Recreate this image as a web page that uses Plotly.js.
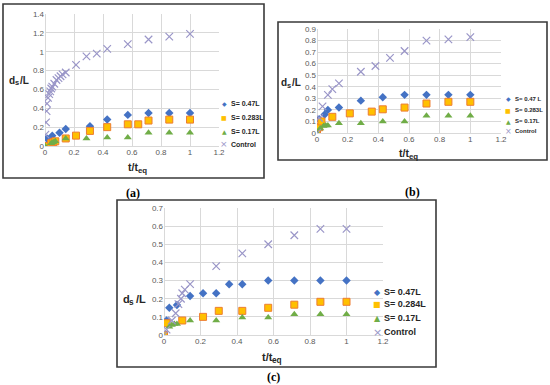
<!DOCTYPE html>
<html>
<head>
<meta charset="utf-8">
<script src="https://cdn.plot.ly/plotly-3.0.1.min.js"></script>
<style>html,body{margin:0;padding:0;background:#fff;}#chart{width:550px;height:385px;}</style>
</head>
<body>
<div id="chart"></div>
<script>
// ---------- Panel (a) ----------
const namesA = ["S= 0.47L", "S= 0.283L", "S= 0.17L", "Control"];
const a_s47_x = [0.014, 0.05, 0.1, 0.143, 0.31, 0.429, 0.571, 0.714, 0.857, 1.0];
const a_s47_y = [0.08, 0.11, 0.14, 0.18, 0.21, 0.28, 0.33, 0.35, 0.35, 0.35];
const a_s283_x = [0, 0.043, 0.057, 0.071, 0.143, 0.214, 0.31, 0.429, 0.571, 0.643, 0.714, 0.857, 1.0];
const a_s283_y = [0, 0.03, 0.04, 0.05, 0.08, 0.11, 0.16, 0.2, 0.23, 0.23, 0.27, 0.28, 0.28];
const a_s17_x = [0, 0.043, 0.057, 0.071, 0.143, 0.286, 0.429, 0.571, 0.714, 0.857, 1.0];
const a_s17_y = [0, 0.03, 0.04, 0.05, 0.08, 0.08, 0.09, 0.09, 0.14, 0.14, 0.14];
const a_ctl_x = [0.003, 0.007, 0.011, 0.014, 0.021, 0.029, 0.036, 0.043, 0.05, 0.064, 0.079, 0.093, 0.107, 0.121, 0.143, 0.214, 0.286, 0.357, 0.429, 0.571, 0.714, 0.857, 1.0];
const a_ctl_y = [0.12, 0.25, 0.37, 0.45, 0.51, 0.55, 0.58, 0.61, 0.63, 0.66, 0.7, 0.72, 0.74, 0.76, 0.78, 0.86, 0.95, 0.98, 1.03, 1.08, 1.13, 1.16, 1.19];

// ---------- Panel (b) ----------
const namesB = ["S= 0.47 L", "S= 0.283L", "S= 0.17L", "Control"];
const b_s47_x = [0.014, 0.05, 0.071, 0.143, 0.286, 0.429, 0.571, 0.714, 0.857, 1.0];
const b_s47_y = [0.12, 0.16, 0.2, 0.22, 0.28, 0.31, 0.33, 0.33, 0.33, 0.33];
const b_s283_x = [0, 0.014, 0.029, 0.1, 0.214, 0.357, 0.429, 0.571, 0.714, 0.857, 1.0];
const b_s283_y = [0, 0.05, 0.1, 0.14, 0.17, 0.185, 0.205, 0.22, 0.255, 0.27, 0.27];
const b_s17_x = [0, 0.021, 0.043, 0.057, 0.071, 0.143, 0.286, 0.429, 0.571, 0.714, 0.857, 1.0];
const b_s17_y = [0, 0.04, 0.06, 0.065, 0.065, 0.085, 0.085, 0.1, 0.1, 0.15, 0.15, 0.15];
const b_ctl_x = [0, 0.014, 0.036, 0.071, 0.1, 0.143, 0.286, 0.381, 0.476, 0.571, 0.714, 0.857, 1.0];
const b_ctl_y = [0, 0.13, 0.23, 0.33, 0.38, 0.43, 0.53, 0.58, 0.65, 0.71, 0.8, 0.81, 0.83];

// ---------- Panel (c) ----------
const namesC = ["S= 0.47L", "S= 0.284L", "S= 0.17L", "Control"];
const c_s47_x = [0.014, 0.029, 0.071, 0.143, 0.214, 0.286, 0.357, 0.429, 0.571, 0.714, 0.857, 1.0];
const c_s47_y = [0.08, 0.15, 0.165, 0.215, 0.23, 0.23, 0.28, 0.28, 0.3, 0.3, 0.3, 0.3];
const c_s284_x = [0, 0.014, 0.1, 0.214, 0.3, 0.429, 0.571, 0.714, 0.857, 1.0];
const c_s284_y = [0, 0.065, 0.08, 0.1, 0.133, 0.133, 0.15, 0.167, 0.183, 0.183];
const c_s17_x = [0.029, 0.043, 0.057, 0.071, 0.143, 0.286, 0.429, 0.571, 0.714, 0.857, 1.0];
const c_s17_y = [0.045, 0.055, 0.06, 0.06, 0.08, 0.08, 0.097, 0.097, 0.115, 0.115, 0.115];
const c_ctl_x = [0, 0.014, 0.043, 0.064, 0.079, 0.093, 0.1, 0.114, 0.143, 0.286, 0.429, 0.571, 0.714, 0.857, 1.0];
const c_ctl_y = [0, 0.03, 0.08, 0.12, 0.17, 0.2, 0.23, 0.25, 0.28, 0.38, 0.45, 0.5, 0.55, 0.585, 0.585];

const panelLabels = ["(a)", "(b)", "(c)"];
// axis titles split as [main, subscript, rest]
const xTitleParts = ["t/t", "eq", ""];
const yTitleParts = ["d", "s", "/L"];

// ---------- styles ----------
const W = 550, H = 385;
const px = v => v / W;
const py = v => 1 - v / H;
const colors = ["#4472C4", "#FFC000", "#70AD47", "#9A96C8"];
const styles = [
  {symbol: "diamond", size: 6.5, color: colors[0], line: {width: 0}},
  {symbol: "square", size: 7, color: colors[1], line: {color: "#ED7D31", width: 1}},
  {symbol: "triangle-up", size: 7, color: colors[2], line: {width: 0}},
  {symbol: "x-thin-open", size: 7.5, color: colors[3], line: {color: colors[3], width: 1.2}}
];
const glyphs = ["◆", "■", "▲", "×"];

const panels = [
  {xs: [a_s47_x, a_s283_x, a_s17_x, a_ctl_x], ys: [a_s47_y, a_s283_y, a_s17_y, a_ctl_y], names: namesA, ax: ""},
  {xs: [b_s47_x, b_s283_x, b_s17_x, b_ctl_x], ys: [b_s47_y, b_s283_y, b_s17_y, b_ctl_y], names: namesB, ax: "2"},
  {xs: [c_s47_x, c_s284_x, c_s17_x, c_ctl_x], ys: [c_s47_y, c_s284_y, c_s17_y, c_ctl_y], names: namesC, ax: "3"}
];

const traces = [];
panels.forEach(p => {
  for (let i = 0; i < 4; i++) {
    traces.push({
      type: "scatter", mode: "markers",
      x: p.xs[i], y: p.ys[i], name: p.names[i],
      xaxis: "x" + p.ax, yaxis: "y" + p.ax,
      marker: styles[i], showlegend: false, hoverinfo: "skip"
    });
  }
});

const tickFont = {family: "Liberation Sans, Arial, sans-serif", size: 8, color: "#595959"};
function xa(domain, anchor) {
  return {domain: domain, anchor: anchor, range: [0, 1.2], dtick: 0.2, tick0: 0,
    showgrid: true, gridcolor: "#D9D9D9", gridwidth: 1, zeroline: true, zerolinecolor: "#D9D9D9",
    zerolinewidth: 1, showline: false, ticks: "", tickfont: tickFont, fixedrange: true};
}
function ya(domain, anchor, max, dt) {
  return {domain: domain, anchor: anchor, range: [0, max], dtick: dt, tick0: 0,
    showgrid: true, gridcolor: "#D9D9D9", gridwidth: 1, zeroline: true, zerolinecolor: "#D9D9D9",
    zerolinewidth: 1, showline: false, ticks: "", tickfont: tickFont, fixedrange: true};
}

// plot-area pixel boxes [left, right, top, bottom]
const boxA = [45, 219, 14, 146];
const boxB = [317, 501, 29, 133];
const boxC = [164, 383, 208, 335];
const dom = b => ({x: [px(b[0]), px(b[1])], y: [py(b[3]), py(b[2])]});
const dA = dom(boxA), dB = dom(boxB), dC = dom(boxC);

const SANS = "Liberation Sans, Arial, sans-serif";
const annotations = [];
function ann(text, x, y, font, xanchor) {
  annotations.push({text: text, x: px(x), y: py(y), xref: "paper", yref: "paper",
    xanchor: xanchor || "center", yanchor: "middle", showarrow: false, font: font});
}
// approximate bold advance widths (em) for width estimation
const adv = {"d": .611, "s": .556, "/": .278, "L": .611, "t": .333, "e": .556, "q": .611, " ": .278};
const wOf = (s, size) => s.split("").reduce((a, c) => a + (adv[c] || .56), 0) * size;
function subTitle(parts, cx, cy, size) {
  const sub = size * 0.75;
  const w0 = wOf(parts[0], size), w1 = wOf(parts[1], sub), w2 = wOf(parts[2], size) + (parts[2] ? 1.5 : 0);
  let x = cx - (w0 + w1 + w2) / 2;
  const f = {family: SANS, size: size, color: "#262626", weight: "bold"};
  const fs = {family: SANS, size: sub, color: "#262626", weight: "bold"};
  ann(parts[0], x, cy, f, "left"); x += w0;
  ann(parts[1], x, cy + size * 0.3, fs, "left"); x += w1 + 1.5;
  if (parts[2]) ann(parts[2], x, cy, f, "left");
}
subTitle(yTitleParts, 17, 80, 10);
subTitle(xTitleParts, 136, 167, 10.5);
subTitle(yTitleParts, 289, 83, 10);
subTitle(xTitleParts, 407, 153, 10.5);
subTitle(yTitleParts, 132, 299, 11);
subTitle(xTitleParts, 270, 357, 11);

// panel labels
const labFont = {family: "Liberation Serif, Times New Roman, serif", size: 12, color: "#000", weight: "bold"};
ann(panelLabels[0], 133, 193, labFont);
ann(panelLabels[1], 412, 192, labFont);
ann(panelLabels[2], 273, 377, labFont);

// compact legends as text
function legend(names, xText, ys, size) {
  names.forEach((n, i) => {
    const gs = i === 3 ? size + 2 : Math.max(size - 1, 6);
    ann(glyphs[i], xText - 5, ys[i], {family: "DejaVu Sans, sans-serif", size: gs, color: colors[i]});
    ann(n, xText, ys[i], {family: SANS, size: size, color: "#262626", weight: "bold"}, "left");
  });
}
legend(namesA, 229, [104, 117, 131, 144], 7);
legend(namesB, 513, [99, 110, 121, 131], 6);
legend(namesC, 382, [292, 304, 318, 332], 9);

const borderLine = {color: "#3A3A3A", width: 1.6};
const rect = (x0, y0, x1, y1) => ({type: "rect", xref: "paper", yref: "paper",
  x0: px(x0), x1: px(x1), y0: py(y1), y1: py(y0), line: borderLine, fillcolor: "rgba(0,0,0,0)"});

const layout = {
  width: W, height: H, margin: {l: 0, r: 0, t: 0, b: 0},
  paper_bgcolor: "#fff", plot_bgcolor: "#fff", showlegend: false,
  xaxis: xa(dA.x, "y"), yaxis: ya(dA.y, "x", 1.4, 0.2),
  xaxis2: xa(dB.x, "y2"), yaxis2: ya(dB.y, "x2", 0.9, 0.1),
  xaxis3: xa(dC.x, "y3"), yaxis3: ya(dC.y, "x3", 0.7, 0.1),
  annotations: annotations,
  shapes: [rect(3, 4, 264, 178), rect(278, 22, 547, 160), rect(117, 200, 436, 367)]
};

Plotly.newPlot("chart", traces, layout, {staticPlot: true, displayModeBar: false});
</script>
</body>
</html>
